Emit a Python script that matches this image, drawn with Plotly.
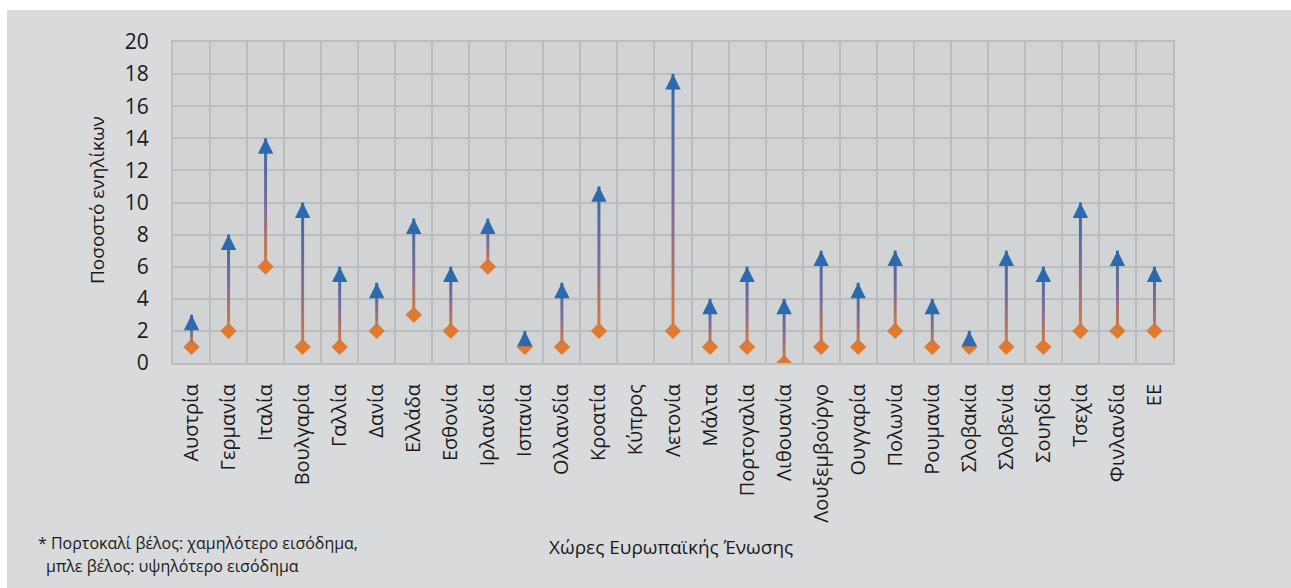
import plotly.graph_objects as go

# Share of adults (%) by income group, per EU country
countries = [
    "Αυστρία", "Γερμανία", "Ιταλία", "Βουλγαρία", "Γαλλία", "Δανία", "Ελλάδα",
    "Εσθονία", "Ιρλανδία", "Ισπανία", "Ολλανδία", "Κροατία", "Κύπρος", "Λετονία",
    "Μάλτα", "Πορτογαλία", "Λιθουανία", "Λουξεμβούργο", "Ουγγαρία", "Πολωνία",
    "Ρουμανία", "Σλοβακία", "Σλοβενία", "Σουηδία", "Τσεχία", "Φινλανδία", "ΕΕ",
]
low_income = [1, 2, 6, 1, 1, 2, 3, 2, 6, 1, 1, 2, None, 2, 1, 1, 0, 1, 1, 2,
              1, 1, 1, 1, 2, 2, 2]
high_income = [3, 8, 14, 10, 6, 5, 9, 6, 9, 2, 5, 11, None, 18, 4, 6, 4, 7, 5, 7,
               4, 2, 7, 6, 10, 7, 6]
y_ticks = list(range(0, 21, 2))

ORANGE = "#e07a30"
BLUE = "#2d6aad"
MID = "#836c98"
GRID = "#bcbdbf"
PANEL = "#d9dadc"
PLOT_BG = "#d2d3d5"
TEXT = "#1a1a1a"
FONT = "Open Sans"

W, H = 1291, 588
L, R, T, B = 173, 118, 42, 225
PW, PH = W - L - R, H - T - B


def px_x(px):
    return (px - L) / PW


def px_y(py):
    return (H - B - py) / PH


idx = list(range(len(countries)))
fig = go.Figure()

# low-income markers (diamonds)
fig.add_trace(go.Scatter(
    x=idx, y=low_income, mode="markers",
    marker=dict(symbol="diamond", size=12.5, color=ORANGE, line=dict(width=0)),
    showlegend=False, hoverinfo="skip",
))

# gradient stems from low to high income
half_w = 0.04
for i, lo, hi in zip(idx, low_income, high_income):
    if lo is None or hi is None:
        continue
    fig.add_trace(go.Scatter(
        x=[i - half_w, i + half_w, i + half_w, i - half_w, i - half_w],
        y=[lo, lo, hi, hi, lo],
        mode="lines", fill="toself", line=dict(width=0),
        fillgradient=dict(type="vertical",
                          colorscale=[[0, ORANGE], [0.45, MID], [1, BLUE]]),
        showlegend=False, hoverinfo="skip",
    ))

annotations = []
# arrowheads at the high-income values
for i, hi in zip(idx, high_income):
    if hi is None:
        continue
    annotations.append(dict(
        x=i, y=hi, xref="x", yref="y", ax=0, ay=13, text="",
        showarrow=True, arrowhead=2, arrowsize=1.4, arrowwidth=2.2,
        arrowcolor=BLUE,
    ))

annotations += [
    dict(text="Ποσοστό ενηλίκων", textangle=-90, x=px_x(97), y=px_y(200),
         xref="paper", yref="paper", showarrow=False, xanchor="center",
         yanchor="middle", font=dict(family=FONT, size=19, color=TEXT)),
    dict(text="Χώρες Ευρωπαϊκής Ένωσης", x=px_x(671), y=px_y(547),
         xref="paper", yref="paper", showarrow=False, xanchor="center",
         yanchor="middle", font=dict(family=FONT, size=19, color=TEXT)),
    dict(text="* Πορτοκαλί βέλος: χαμηλότερο εισόδημα,", x=px_x(36), y=px_y(543),
         xref="paper", yref="paper", showarrow=False, xanchor="left",
         yanchor="middle", font=dict(family=FONT, size=16, color=TEXT)),
    dict(text="μπλε βέλος: υψηλότερο εισόδημα", x=px_x(44), y=px_y(566),
         xref="paper", yref="paper", showarrow=False, xanchor="left",
         yanchor="middle", font=dict(family=FONT, size=16, color=TEXT)),
]

shapes = [
    # white margin strips around the grey panel
    dict(type="rect", xref="paper", yref="paper", x0=px_x(0), x1=px_x(W),
         y0=px_y(10), y1=px_y(0), fillcolor="white", line=dict(width=0),
         layer="below"),
    dict(type="rect", xref="paper", yref="paper", x0=px_x(0), x1=px_x(7),
         y0=px_y(H), y1=px_y(0), fillcolor="white", line=dict(width=0),
         layer="below"),
]

fig.update_layout(
    width=W, height=H,
    margin=dict(l=L, r=R, t=T, b=B, pad=0),
    paper_bgcolor=PANEL, plot_bgcolor=PLOT_BG,
    annotations=annotations, shapes=shapes,
    showlegend=False,
)

fig.update_xaxes(
    range=[-0.5, len(countries) - 0.5],
    tickmode="array", tickvals=idx, ticktext=countries, tickangle=-90,
    tickfont=dict(family=FONT, size=20, color=TEXT),
    ticks="", ticklabelstandoff=11,
    showgrid=False, zeroline=False,
    showline=True, linecolor=GRID, linewidth=2, mirror=True,
    minor=dict(tickmode="linear", tick0=-0.5, dtick=1, showgrid=True,
               gridcolor=GRID, gridwidth=2, ticks=""),
)
fig.update_yaxes(
    range=[0, 20], tickmode="array", tickvals=y_ticks,
    tickfont=dict(family=FONT, size=21, color=TEXT),
    ticks="", ticklabelstandoff=18,
    showgrid=True, gridcolor=GRID, gridwidth=2,
    zeroline=False, showline=True, linecolor=GRID, linewidth=2, mirror=True,
)

fig.write_html("out.html")
